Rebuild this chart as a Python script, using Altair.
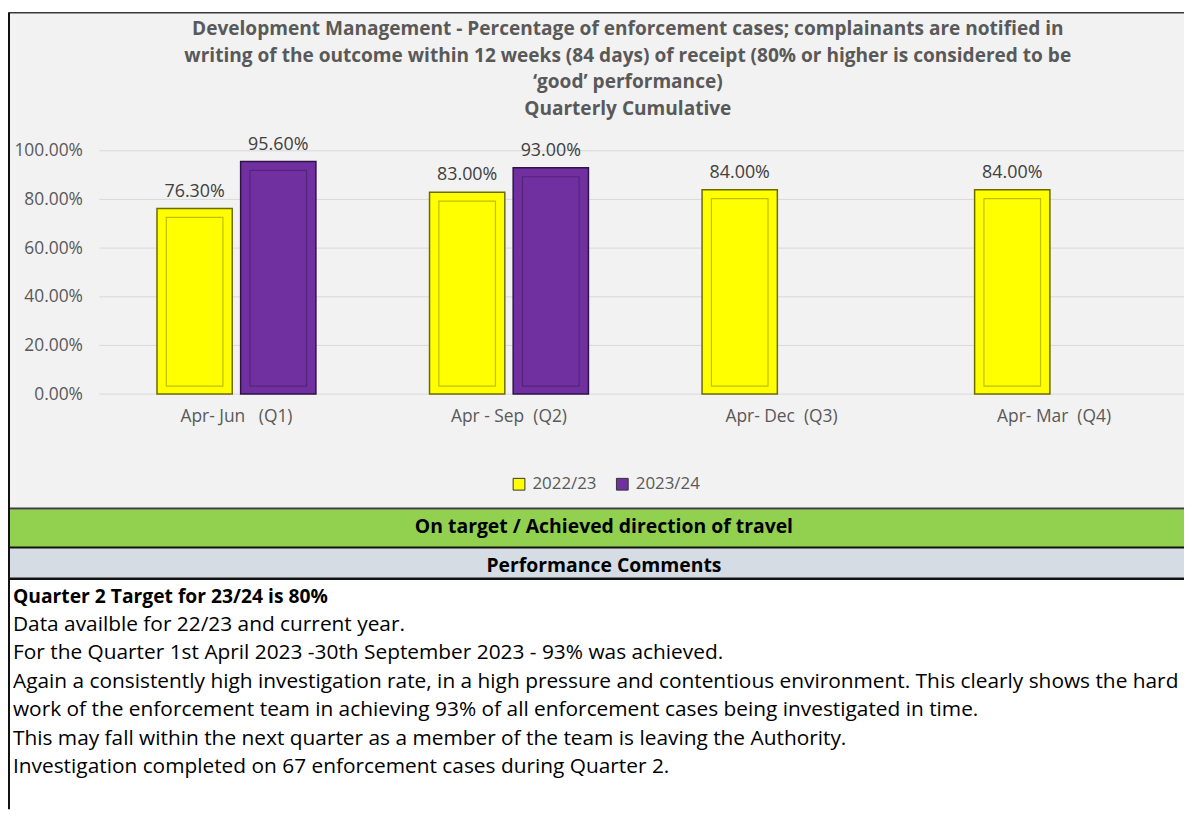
import altair as alt
import pandas as pd

# ---------------- data ----------------
categories = ["Apr-\u00a0Jun\u00a0\u00a0\u00a0(Q1)", "Apr\u00a0-\u00a0Sep\u00a0\u00a0(Q2)",
              "Apr-\u00a0Dec\u00a0\u00a0(Q3)", "Apr-\u00a0Mar\u00a0\u00a0(Q4)"]
series = ["2022/23", "2023/24"]
values_2022 = [0.763, 0.83, 0.84, 0.84]
values_2023 = [0.956, 0.93, None, None]
y_ticks = [0.0, 0.2, 0.4, 0.6, 0.8, 1.0]

title_lines = [
    "Development Management - Percentage of enforcement cases; complainants are notified in",
    "writing of the outcome within 12 weeks (84 days) of receipt (80% or higher is considered to be",
    "\u2018good\u2019 performance)",
    "Quarterly Cumulative",
]
status_text = "On target / Achieved direction of travel"
header_text = "Performance Comments"
comment_heading = "Quarter 2 Target for 23/24 is 80%"
comment_lines = [
    "Data availble for 22/23 and current year.",
    "For the Quarter 1st April 2023 -30th September 2023 - 93% was achieved.",
    "Again a consistently high investigation rate, in a high pressure and contentious environment. This clearly shows the hard",
    "work of the enforcement team in achieving 93% of all enforcement cases being investigated in time.",
    "This may fall within the next quarter as a member of the team is leaving the Authority.",
    "Investigation completed on 67 enforcement cases during Quarter 2.",
]

rows = []
for c, v in zip(categories, values_2022):
    if v is not None:
        rows.append({"cat": c, "series": series[0], "value": v})
for c, v in zip(categories, values_2023):
    if v is not None:
        rows.append({"cat": c, "series": series[1], "value": v})
df = pd.DataFrame(rows)
ticks_df = pd.DataFrame({"t": y_ticks})
one = pd.DataFrame({"k": [0]})

FONT = "Open Sans"
W, H = 1092, 245
PAD_L, PAD_T = 92, 141
TOTAL_H = 804

x_enc = alt.X("cat:N", sort=categories, title=None,
              scale=alt.Scale(paddingInner=0.4169, paddingOuter=0.1983, align=0.533),
              axis=alt.Axis(labelFont=FONT, labelFontSize=17.5, labelColor="#595959",
                            labelPadding=14, ticks=False, domain=False, grid=False,
                            labelAngle=0, zindex=1))
y_enc = alt.Y("value:Q", title=None,
              scale=alt.Scale(domain=[0, 1], nice=False),
              axis=alt.Axis(values=y_ticks, format=".2%", labelFont=FONT, labelFontSize=17.5,
                            labelColor="#595959", labelPadding=17, ticks=False,
                            domain=False, grid=False, zindex=1))
xoff = alt.XOffset("series:N", sort=series,
                   scale=alt.Scale(paddingInner=0.1, paddingOuter=0))

# ---------------- decoration ----------------
def rect(x, x2, y, y2, **kw):
    return alt.Chart(one).mark_rect(**kw).encode(
        x=alt.value(x), x2=alt.value(x2), y=alt.value(y), y2=alt.value(y2))

def hrule(y, color, w):
    return alt.Chart(one).mark_rule(color=color, strokeWidth=w).encode(
        x=alt.value(-PAD_L), x2=alt.value(1200), y=alt.value(y))

box = rect(-91, 1200, -139, 360, fill="#f2f2f2", stroke="#3a3a3a", strokeWidth=1.5)
green = rect(-91, 1200, 361, 399, fill="#92d050")
grey = rect(-91, 1200, 400, 430, fill="#d6dce4")
white = rect(-91, 1200, 431, TOTAL_H - PAD_T, fill="#ffffff")
line1 = hrule(360.5, "#404040", 1.5)
line2 = hrule(399.5, "#111111", 2)
line3 = hrule(430.8, "#111111", 2.5)
left = alt.Chart(one).mark_rule(color="#111111", strokeWidth=2).encode(
    x=alt.value(-91), y=alt.value(-139), y2=alt.value(TOTAL_H - PAD_T))

grid = alt.Chart(ticks_df).mark_rule(color="#d9d9d9", strokeWidth=1).encode(
    y=alt.Y("t:Q", scale=alt.Scale(domain=[0, 1], nice=False)),
    x=alt.value(0), x2=alt.value(1200))

# ---------------- bars ----------------
fill_scale = alt.Scale(domain=series, range=["#ffff00", "#7030a0"])
bars = alt.Chart(df).mark_bar(strokeWidth=1.5).encode(
    x=x_enc, xOffset=xoff, y=y_enc,
    color=alt.Color("series:N", scale=fill_scale, sort=series, title=None,
                    legend=alt.Legend(orient="none", legendX=414, legendY=327,
                                      direction="horizontal", symbolType="square",
                                      symbolSize=140, symbolStrokeWidth=1,
                                      symbolStrokeColor="#333333",
                                      labelFont=FONT, labelFontSize=17,
                                      labelColor="#595959", labelOffset=5,
                                      columnPadding=17, zindex=1)),
    stroke=alt.Stroke("series:N", scale=alt.Scale(domain=series, range=["#6b6b00", "#2e1248"]),
                      legend=None),
)
inner = alt.Chart(df).mark_bar(fillOpacity=0, strokeWidth=1.2, strokeOpacity=0.55,
                               size=57, yOffset=9, y2Offset=-8).encode(
    x=x_enc, xOffset=xoff, y=y_enc, y2=alt.datum(0),
    stroke=alt.Stroke("series:N", scale=alt.Scale(domain=series, range=["#8a8a00", "#3f1a60"]),
                      legend=None),
)
labels = alt.Chart(df).mark_text(font=FONT, fontSize=18, color="#404040",
                                 baseline="bottom", dy=-8).encode(
    x=x_enc, xOffset=xoff, y=y_enc, text=alt.Text("value:Q", format=".2%"))

# ---------------- texts ----------------
title = alt.Chart(one).mark_text(font=FONT, fontSize=19.2, fontWeight="bold", color="#595959",
                                 align="center", baseline="middle", lineHeight=26.8).encode(
    x=alt.value(532), y=alt.value(-122.3), text=alt.value(title_lines))
status = alt.Chart(one).mark_text(font=FONT, fontSize=19.5, fontWeight="bold", color="#000000",
                                  align="center", baseline="middle").encode(
    x=alt.value(508), y=alt.value(379), text=alt.value(status_text))
header = alt.Chart(one).mark_text(font=FONT, fontSize=19.5, fontWeight="bold", color="#000000",
                                  align="center", baseline="middle").encode(
    x=alt.value(508), y=alt.value(418), text=alt.value(header_text))
c_head = alt.Chart(one).mark_text(font=FONT, fontSize=19.4, fontWeight="bold", color="#000000",
                                  align="left", baseline="middle").encode(
    x=alt.value(-87), y=alt.value(449), text=alt.value(comment_heading))
c_body = alt.Chart(one).mark_text(font=FONT, fontSize=21, color="#000000",
                                  align="left", baseline="middle", lineHeight=28.6).encode(
    x=alt.value(-87), y=alt.value(477.5), text=alt.value(comment_lines))

chart = alt.layer(
    box, green, grey, white, line1, line2, line3, left,
    grid, bars, inner, labels, title, status, header, c_head, c_body
).resolve_scale(stroke="independent").properties(
    width=W, height=H,
    autosize=alt.AutoSizeParams(type="none"),
    padding={"left": PAD_L, "top": PAD_T, "right": 0, "bottom": TOTAL_H - PAD_T - H},
    background="#ffffff",
).configure_view(stroke=None)

chart.save("out.html", embed_options={"renderer": "svg", "actions": False})
